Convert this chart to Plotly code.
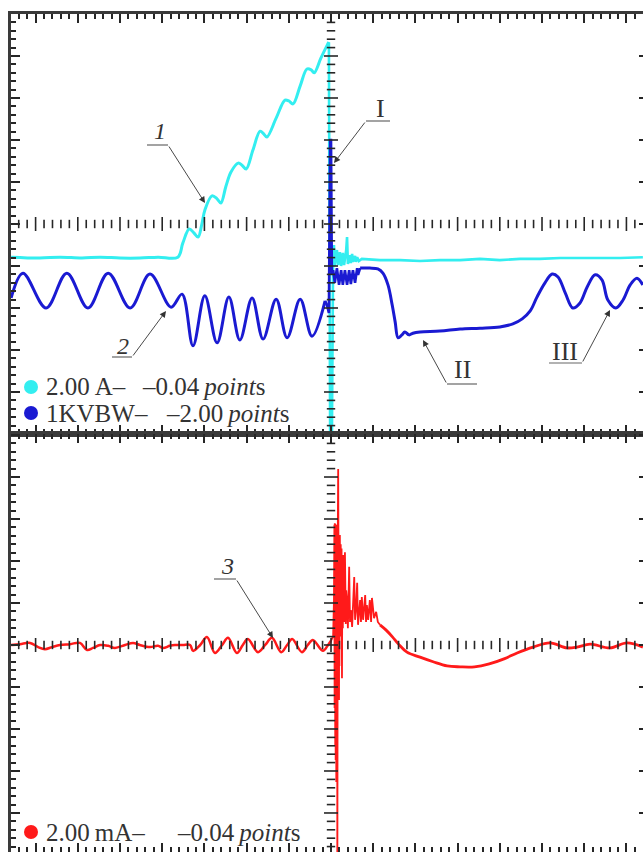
import numpy as np
import plotly.graph_objects as go

W, H = 643, 852

# ---------------- data (oscilloscope divisions: t = time div, v = vertical div) ----------------
# Channel 1 - current (cyan), top panel
cyan_rise_t = [-7.58, -6.9, -6.42, -5.9, -5.47, -5.0, -4.53, -4.1, -3.63, -3.51, -3.36, -3.25,
               -3.15, -3.06, -2.99, -2.82, -2.70, -2.61, -2.49, -2.37, -2.20, -2.11, -2.01,
               -1.85, -1.68, -1.59, -1.52, -1.30, -1.09, -1.00, -0.90, -0.73, -0.57, -0.47,
               -0.40, -0.24, -0.09, -0.05]
cyan_rise_v = [-0.79, -0.81, -0.79, -0.81, -0.79, -0.81, -0.81, -0.79, -0.79, -0.45, -0.12, -0.21,
               -0.31, 0.0, 0.33, 0.67, 0.60, 0.50, 0.90, 1.24, 1.45, 1.40, 1.31,
               1.76, 2.21, 2.14, 2.07, 2.52, 2.95, 2.93, 2.86, 3.29, 3.69, 3.67,
               3.60, 3.95, 4.26, 4.33]
cyan_post_t = [-0.05, -0.02, 0.02, 0.05, 0.07, 0.09, 0.14, 0.17, 0.21, 0.24, 0.28, 0.31, 0.36,
               0.38, 0.40, 0.45, 0.47, 0.50, 0.52, 0.57, 0.59, 0.62, 0.66, 0.73, 1.16, 1.64,
               2.11, 2.58, 3.06, 3.53, 4.00, 4.48, 4.95, 5.43, 5.90, 6.37, 6.85, 7.39]
cyan_post_v = [4.33, -5.3, -5.3, -0.81, -0.50, -1.00, -0.62, -0.98, -0.67, -1.00, -0.69, -0.98, -0.62,
               -0.31, -0.95, -0.74, -0.93, -0.71, -0.90, -0.76, -0.90, -0.79, -0.88, -0.83, -0.86, -0.86,
               -0.88, -0.86, -0.86, -0.83, -0.86, -0.83, -0.83, -0.81, -0.81, -0.81, -0.81, -0.79]

# Channel 2 - voltage (blue), top panel
blue_pre_t = [-7.58, -7.30, -6.75, -6.26, -5.76, -5.28, -4.76, -4.29, -3.79, -3.53, -3.27, -2.99,
              -2.70, -2.42, -2.16, -1.87, -1.61, -1.30, -1.04, -0.73, -0.45, -0.14]
blue_pre_v = [-1.76, -1.17, -2.00, -1.17, -2.00, -1.17, -2.00, -1.19, -1.98, -1.67, -2.90, -1.71,
              -2.83, -1.74, -2.76, -1.76, -2.74, -1.79, -2.71, -1.79, -2.67, -1.83]
blue_jump_t = [-0.14, -0.09, -0.05, -0.02, 0.0, 0.02, 0.05, 0.09, 0.14, 0.19, 0.24, 0.28, 0.33,
               0.38, 0.43, 0.47, 0.52, 0.57, 0.62, 0.64, 0.69]
blue_jump_v = [-1.83, -1.95, -2.12, 2.0, 2.0, -1.21, -1.10, -1.40, -1.05, -1.45, -1.10, -1.45, -1.10,
               -1.45, -1.10, -1.43, -1.10, -1.40, -1.05, -1.21, -1.05]
blue_post_t = [0.69, 0.92, 1.11, 1.23, 1.35, 1.45, 1.52, 1.59, 1.68, 1.75, 1.85, 1.94, 2.11, 2.58,
               3.06, 3.53, 4.00, 4.31, 4.53, 4.72, 4.88, 5.07, 5.24, 5.38, 5.55, 5.73, 5.90, 6.07,
               6.26, 6.42, 6.56, 6.75, 6.92, 7.09, 7.25, 7.39]
blue_post_v = [-1.05, -1.05, -1.07, -1.17, -1.45, -1.93, -2.33, -2.71, -2.64, -2.57, -2.64, -2.60,
               -2.57, -2.55, -2.50, -2.48, -2.45, -2.38, -2.26, -2.07, -1.74, -1.40, -1.19, -1.26,
               -1.64, -2.00, -1.88, -1.50, -1.21, -1.33, -1.81, -2.00, -1.81, -1.45, -1.29, -1.45]

# Channel 3 - leakage current (red), bottom panel
red_pre_t = [-7.58, -7.37, -7.13, -6.94, -6.78, -6.61, -6.42, -6.18, -5.95, -5.78, -5.64, -5.47,
             -5.28, -5.12, -4.88, -4.69, -4.53, -4.29, -4.10, -3.98, -3.82, -3.70, -3.51, -3.34,
             -3.27, -3.10, -2.94, -2.75, -2.58, -2.44, -2.23, -2.09, -1.97, -1.73, -1.56, -1.40,
             -1.18, -1.04, -0.92, -0.69, -0.55, -0.43, -0.19, -0.07, 0.0]
red_pre_v = [0.0, 0.02, 0.05, -0.05, -0.10, -0.05, 0.0, 0.02, 0.05, -0.12, -0.07, 0.0,
             -0.02, -0.07, 0.0, 0.05, 0.0, -0.05, -0.02, -0.07, -0.02, 0.0, 0.0, 0.0,
             -0.14, 0.0, 0.19, -0.19, 0.0, 0.17, -0.19, 0.0, 0.14, -0.17, 0.0, 0.17,
             -0.17, 0.0, 0.14, -0.17, 0.0, 0.12, -0.14, 0.0, 0.10]
red_spike_t = [0.0, 0.05, 0.07, 0.08, 0.085, 0.09, 0.10, 0.105, 0.11, 0.12, 0.125, 0.13, 0.14,
               0.145, 0.15, 0.16, 0.17, 0.175, 0.18, 0.19, 0.195, 0.20, 0.21, 0.22, 0.23, 0.24,
               0.25, 0.26, 0.27, 0.28, 0.29, 0.30, 0.31, 0.32, 0.33, 0.35, 0.36, 0.38, 0.40,
               0.43, 0.45, 0.47, 0.50, 0.55, 0.57, 0.59, 0.62, 0.64, 0.69, 0.71, 0.73, 0.76,
               0.81, 0.83, 0.85, 0.88, 0.92, 0.95, 0.97, 1.02, 1.07, 1.11, 1.16]
red_spike_v = [0.10, 0.21, 1.07, 2.86, -1.50, 2.90, -2.40, 2.88, -2.74, 2.86, -3.26, 2.74, -3.00,
               2.80, -6.0, 2.60, 4.19, 0.50, 2.70, -1.31, 2.62, -0.50, 2.62, 0.30, 2.40, 0.20,
               2.30, -0.79, 2.10, 0.40, 2.14, 0.60, 2.00, 0.55, 2.21, 0.50, 1.30, 1.07, 0.40,
               1.86, 0.55, 0.83, 0.43, 1.62, 0.60, 0.79, 1.48, 0.48, 1.07, 0.55, 1.14, 0.60,
               1.19, 0.55, 0.95, 0.60, 1.07, 0.55, 1.12, 0.64, 0.79, 0.55, 0.48]
red_tail_t = [1.16, 1.30, 1.45, 1.60, 1.80, 2.11, 2.42, 2.75, 3.06, 3.40, 3.75, 4.10, 4.41, 4.79, 5.19,
              5.59, 5.83, 6.14, 6.61, 7.01, 7.39]
red_tail_v = [0.48, 0.36, 0.20, 0.02, -0.17, -0.29, -0.40, -0.50, -0.52, -0.52, -0.45, -0.33, -0.19,
              -0.05, 0.05, -0.07, -0.05, 0.02, -0.07, 0.05, -0.05]

legend_ch1 = ["2.00\u2009A\u2013", "\u20130.04\u2009<i>point</i>s"]
legend_ch2 = ["1KVBW\u2013", "\u20132.00\u2009<i>point</i>s"]
legend_ch3 = ["2.00\u2009mA\u2013", "\u20130.04\u2009<i>point</i>s"]

CYAN, BLUE, RED = "#33eef0", "#1a1ad2", "#ff1a1a"
INK = "#262626"
SERIF = "Liberation Serif"

# ---------------- layout geometry ----------------
X_RANGE = [-7.583, 7.393]
TOP_RANGE = [-5.0, 5.0]
BOT_RANGE = [-4.929, 5.024]
x_dom = [11 / W, 1.0]
top_dom = [1 - 434 / H, 1 - 14 / H]
bot_dom = [0.0, 1 - 434 / H]

fig = go.Figure()


def add_line(t, v, color, width, shape, xa, ya, opacity=1.0):
    fig.add_trace(go.Scatter(x=t, y=v, mode="lines", opacity=opacity,
                             line=dict(color=color, width=width, shape=shape),
                             xaxis=xa, yaxis=ya, showlegend=False, hoverinfo="skip"))


add_line(cyan_rise_t, cyan_rise_v, CYAN, 3, "spline", "x", "y")
add_line(cyan_post_t, cyan_post_v, CYAN, 2.6, "linear", "x", "y")
add_line(blue_pre_t, blue_pre_v, BLUE, 3, "spline", "x", "y")
add_line(blue_jump_t, blue_jump_v, BLUE, 2.6, "linear", "x", "y")
add_line(blue_post_t, blue_post_v, BLUE, 3, "spline", "x", "y")
add_line(red_pre_t, red_pre_v, RED, 2.5, "spline", "x2", "y2")
add_line(red_spike_t, red_spike_v, RED, 1.8, "linear", "x2", "y2")
add_line(red_tail_t, red_tail_v, RED, 2.8, "spline", "x2", "y2")

# ---------------- centre cross-hair graticule ticks ----------------
hx = np.round(np.arange(-7.4, 7.31, 0.2), 1)
hy_top = np.round(np.arange(-4.8, 4.81, 0.2), 1)
hy_bot = np.round(np.arange(-4.8, 4.81, 0.2), 1)


def is_major(a):
    return np.abs(a - np.round(a)) < 1e-6


def tick_marks(xs, ys, symbol, size, xa, ya):
    fig.add_trace(go.Scatter(x=xs, y=ys, mode="markers", xaxis=xa, yaxis=ya,
                             marker=dict(symbol=symbol, size=size, color=INK,
                                         line=dict(color=INK, width=1.6)),
                             showlegend=False, hoverinfo="skip"))


for xa, ya, hy in (("x", "y", hy_top), ("x2", "y2", hy_bot)):
    mn = hx[~is_major(hx)]
    mj = hx[is_major(hx)]
    tick_marks(mn, np.zeros(len(mn)), "line-ns", 6, xa, ya)
    tick_marks(mj, np.zeros(len(mj)), "line-ns", 10, xa, ya)
    mn = hy[~is_major(hy)]
    mj = hy[is_major(hy)]
    tick_marks(np.zeros(len(mn)), mn, "line-ew", 6, xa, ya)
    tick_marks(np.zeros(len(mj)), mj, "line-ew", 10, xa, ya)

# dummy traces so the right-hand graticule axes are drawn
fig.add_trace(go.Scatter(x=[None], y=[None], xaxis="x", yaxis="y3", showlegend=False, hoverinfo="skip"))
fig.add_trace(go.Scatter(x=[None], y=[None], xaxis="x2", yaxis="y4", showlegend=False, hoverinfo="skip"))

# ---------------- axes (frame) ----------------
minor = dict(ticks="inside", ticklen=5, tickwidth=1.6, tickcolor=INK, dtick=0.2, tick0=0, showgrid=False)
frame = dict(showline=True, linecolor="#3a3a3a", linewidth=2.6, ticks="inside", ticklen=9,
             tickwidth=1.6, tickcolor=INK, dtick=1, tick0=0, showgrid=False, zeroline=False,
             showticklabels=False, minor=minor, fixedrange=True)
right = dict(side="right", ticks="inside", ticklen=4, tickwidth=1.6, tickcolor=INK,
             dtick=1, tick0=0, showline=False, showgrid=False, zeroline=False, showticklabels=False)

fig.update_layout(
    width=W, height=H, margin=dict(l=0, r=0, t=0, b=0),
    paper_bgcolor="white", plot_bgcolor="white", showlegend=False,
    xaxis=dict(domain=x_dom, range=X_RANGE, anchor="y", mirror="ticks", **frame),
    yaxis=dict(domain=top_dom, range=TOP_RANGE, anchor="x", mirror=False, **frame),
    xaxis2=dict(domain=x_dom, range=X_RANGE, anchor="y2", mirror="ticks", **frame),
    yaxis2=dict(domain=bot_dom, range=BOT_RANGE, anchor="x2", mirror=False, **frame),
    yaxis3=dict(right, overlaying="y", anchor="x", range=TOP_RANGE),
    yaxis4=dict(right, overlaying="y2", anchor="x2", range=BOT_RANGE),
)


# ---------------- annotations (positions in page pixels) ----------------
def px(x):
    return x / W


def py(y):
    return 1 - y / H


def label(text, x, y, size):
    fig.add_annotation(text=text, x=px(x), y=py(y), xref="paper", yref="paper",
                       xanchor="center", yanchor="middle", showarrow=False,
                       font=dict(family=SERIF, size=size, color="#333333"))


def leader(sx0, sx1, sy, tail_x, hx_, hy_):
    fig.add_shape(type="line", xref="paper", yref="paper", x0=px(sx0), x1=px(sx1),
                  y0=py(sy), y1=py(sy), line=dict(color="#666666", width=1.2))
    fig.add_annotation(text="", x=px(hx_), y=py(hy_), xref="paper", yref="paper",
                       ax=tail_x - hx_, ay=sy - hy_, showarrow=True, arrowhead=2,
                       arrowsize=1.4, arrowwidth=0.9, arrowcolor="#333333", standoff=0)


label("<i>1</i>", 160, 131, 24)
leader(147, 168, 145, 168, 205, 203)
label("I", 380, 108, 26)
leader(366, 390, 121, 366, 334, 163)
label("<i>2</i>", 123, 346, 24)
leader(112, 132, 357, 132, 166, 311)
label("II", 462, 369, 26)
leader(447, 477, 384, 447, 423, 340)
label("III", 565, 351, 26)
leader(549, 582, 363, 582, 610, 310)
label("<i>3</i>", 227, 566, 24)
leader(214, 236, 579, 236, 273, 638)


def legend_row(color, parts, xs, y):
    fig.add_shape(type="circle", xref="paper", yref="paper", x0=px(24), x1=px(38),
                  y0=py(y + 7), y1=py(y - 7), line=dict(width=0), fillcolor=color)
    for t, x in zip(parts, xs):
        fig.add_annotation(text=t, x=px(x), y=py(y), xref="paper", yref="paper",
                           xanchor="left", yanchor="middle", showarrow=False,
                           font=dict(family=SERIF, size=25, color="#333333"))


legend_row(CYAN, legend_ch1, [44, 140], 387)
legend_row(BLUE, legend_ch2, [44, 164], 413)
legend_row(RED, legend_ch3, [44, 175], 832)

fig.write_html("out.html", config={"displayModeBar": False},
               post_script="document.body.style.margin='0';document.body.style.overflow='hidden';")
